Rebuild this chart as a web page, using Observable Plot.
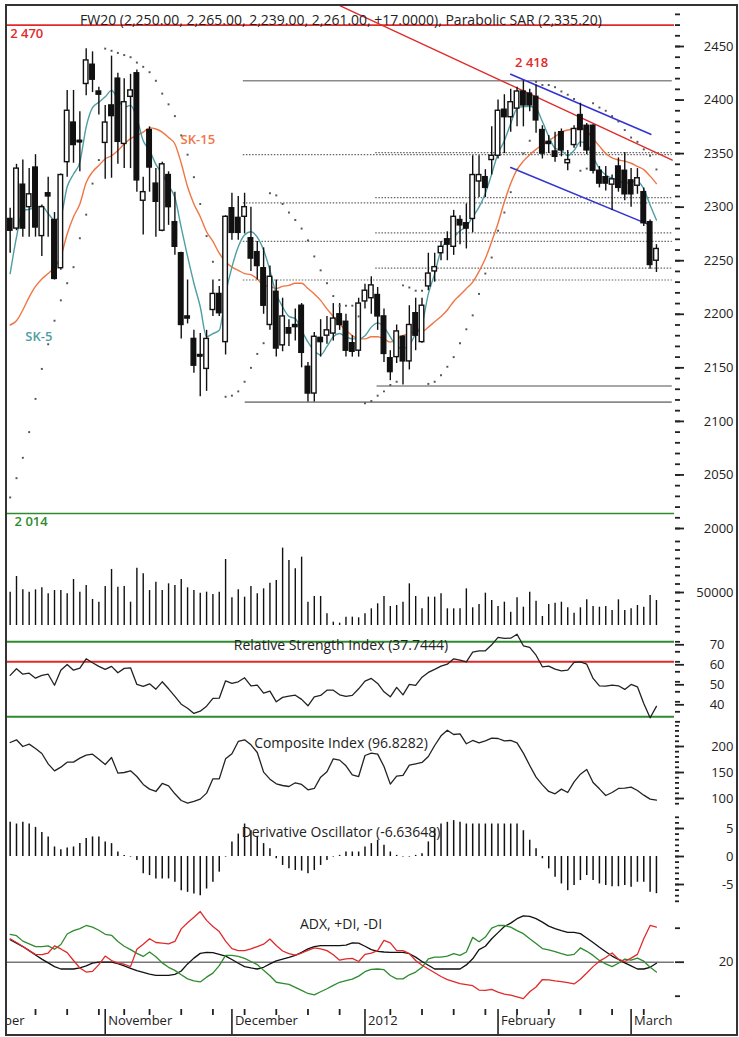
<!DOCTYPE html>
<html><head><meta charset="utf-8">
<script src="https://cdn.jsdelivr.net/npm/d3@7"></script>
<script src="https://cdn.jsdelivr.net/npm/@observablehq/plot@0.6"></script>
<style>
body{margin:0;background:#fff;}
#chart{position:relative;width:739px;height:1037px;overflow:hidden;background:#fff;font-family:"Open Sans",sans-serif;}
#chart svg{position:absolute;left:0;}
#cover{position:absolute;left:0;top:0;width:5px;height:1037px;background:#fff;z-index:5;}
#border{position:absolute;left:5px;top:4px;width:733px;height:1032px;border:2px solid #333;box-sizing:border-box;z-index:6;pointer-events:none;}
</style></head>
<body><div id="chart"><div id="cover"></div><div id="border"></div></div>
<script>
// ---------- data (bar index 0 = 11 Oct 2011 ... 102 = 7 Mar 2012) ----------
const open = [2289,2280,2321,2300,2337,2273,2313,2288,2243,2342, 2379,2362,2415,2433,2408,2360,2395,2420,2359,2403, 2425,2306,2372,2322,2278,2330,2286,2257,2198,2177, 2162,2149,2204,2219,2174,2299,2290,2291,2271,2258, 2243,2190,2221,2171,2187,2190,2208,2151,2126,2178, 2180,2182,2200,2193,2173,2166,2212,2215,2218,2198, 2159,2160,2179,2156,2201,2174,2226,2240,2257,2270, 2263,2288,2285,2289,2324,2328,2344,2348,2391,2384, 2392,2408,2406,2403,2372,2361,2352,2370,2341,2358, 2386,2376,2376,2334,2328,2321,2338,2334,2325,2320, 2314,2286,2250];
const high = [2299,2340,2344,2336,2349,2302,2328,2295,2331,2409, 2409,2389,2448,2445,2412,2395,2441,2425,2420,2424, 2428,2328,2375,2336,2342,2333,2314,2258,2232,2185, 2182,2185,2232,2226,2292,2313,2310,2313,2300,2268, 2262,2245,2232,2215,2195,2205,2210,2155,2183,2195, 2198,2210,2210,2200,2180,2215,2228,2235,2225,2205, 2166,2190,2180,2208,2215,2215,2257,2257,2268,2277, 2297,2292,2303,2348,2348,2335,2375,2400,2405,2410, 2412,2418,2410,2414,2376,2367,2370,2373,2353,2376, 2397,2378,2377,2338,2338,2330,2346,2351,2336,2336, 2318,2288,2265];
const low = [2257,2278,2272,2272,2272,2254,2272,2232,2241,2328, 2341,2333,2404,2407,2386,2326,2327,2340,2336,2336, 2314,2274,2314,2272,2277,2283,2255,2177,2191,2145, 2123,2128,2198,2198,2162,2269,2269,2275,2240,2232, 2200,2185,2160,2165,2170,2175,2150,2118,2118,2160, 2172,2175,2185,2160,2160,2160,2205,2200,2185,2155, 2138,2154,2134,2148,2166,2173,2222,2230,2250,2250, 2255,2265,2261,2276,2309,2309,2330,2345,2350,2370, 2375,2375,2389,2369,2345,2350,2342,2347,2334,2355, 2356,2349,2331,2318,2315,2297,2314,2306,2300,2312, 2282,2242,2239];
const close = [2278,2336,2280,2312,2281,2300,2310,2233,2330,2390, 2358,2361,2437,2419,2405,2379,2385,2361,2398,2409, 2325,2314,2337,2305,2340,2300,2263,2190,2196,2152, 2161,2177,2219,2201,2291,2276,2276,2300,2252,2245, 2208,2235,2168,2198,2182,2188,2164,2126,2179,2174, 2185,2196,2190,2166,2165,2210,2222,2227,2198,2163, 2146,2184,2156,2190,2180,2208,2238,2244,2263,2265, 2291,2283,2280,2330,2330,2318,2348,2390,2384,2398, 2408,2395,2395,2381,2350,2359,2347,2353,2344,2373, 2372,2353,2334,2322,2322,2326,2318,2312,2312,2327, 2285,2246,2261];
const sar = [2029,2047,2066,2090,2121,2149,2172,2194,2213,2229, 2244,2271,2293,2322,2344,2448,2446,2444,2442,2440, 2435,2431,2426,2418,2406,2396,2385,2367,2349,2328, 2303,2273,2249,2232,2123,2124,2128,2137,2150,2163, 2173,2313,2311,2303,2295,2288,2280,2269,2254,2241, 2229,2217,2208,2208,2208,2198,2117,2119,2124,2128, 2134,2137,2227,2225,2222,2222,2135,2137,2143,2151, 2160,2173,2186,2199,2219,2238,2253,2278,2295,2314, 2335,2350,2362,2417,2414,2414,2412,2408,2405,2401, 2334,2336,2397,2393,2390,2385,2380,2372,2365,2361, 2354,2348,2335.2];
const sk5 = [2238,2272,2297,2298,2300,2301,2294,2288,2292,2319, 2331,2342,2375,2393,2398,2403,2409,2401,2393,2395, 2383,2362,2353,2340,2331,2320,2309,2281,2254,2229, 2207,2179,2182,2185,2219,2244,2263,2274,2277,2272, 2260,2241,2219,2207,2198,2196,2185,2174,2166,2162, 2170,2179,2182,2179,2177,2177,2180,2188,2192,2188, 2179,2170,2168,2171,2182,2191,2219,2238,2260,2269, 2272,2278,2282,2291,2300,2313,2331,2350,2362,2378, 2392,2394,2394,2392,2380,2366,2355,2353,2348,2353, 2361,2359,2347,2336,2330,2327,2325,2322,2324,2324, 2317,2302,2288];
const sk15 = [2190,2194,2204,2216,2226,2233,2238,2244,2254,2275, 2291,2303,2323,2333,2339,2345,2348,2353,2359,2364, 2367,2370,2374,2373,2370,2365,2359,2341,2319,2303, 2291,2277,2268,2257,2249,2244,2241,2238,2237,2233, 2227,2226,2224,2226,2227,2229,2229,2224,2219,2213, 2205,2198,2191,2185,2180,2177,2177,2179,2179,2177, 2174,2177,2180,2182,2184,2184,2188,2193,2198,2204, 2212,2218,2224,2230,2240,2252,2268,2285,2305,2322, 2335,2343,2349,2354,2358,2362,2366,2370,2372,2373, 2374,2371,2364,2357,2350,2346,2344,2343,2341,2338, 2335,2329,2322];
const volume = [50400,68800,53100,50400,53100,55500,48400,52300,52300,48400, 65300,50400,58200,41800,38600,57100,77100,56300,57100,38600, 78600,72000,52300,62200,52300,60200,58200,65300,55500,52300, 49200,50400,47600,50400,88800,43700,53100,44500,57100,48400, 54300,61000,64100,102200,87600,77800,91600,38600,45300,45300, 24900,15100,13900,21000,21000,20200,24900,30800,36700,45300, 33500,34700,38600,60200,45300,30800,44500,44500,48400,30800, 30800,30800,54300,32000,35900,49200,40600,33500,38600,26900, 43700,32700,50400,39800,21800,35900,37400,38600,32000,25700, 32000,41400,33500,32700,33500,28800,41400,28800,30800,34700, 32700,46500,40600];
const rsi = [53.2,56.5,53.8,54.3,51.8,53.2,53.8,48.3,55.8,58.7, 55.8,56.8,61.5,59.5,57.7,56.2,57.7,54.5,56.7,57.0, 48.7,47.7,49.0,46.3,50.0,46.5,42.7,38.8,36.8,34.2, 35.3,37.8,41.7,41.8,50.5,49.2,50.0,52.0,48.0,48.3, 44.3,45.3,40.0,42.2,42.8,43.3,41.2,38.0,42.5,43.2, 45.8,45.8,43.5,42.7,43.2,46.5,50.3,51.7,49.2,45.0, 42.5,47.2,43.5,48.7,48.2,52.3,54.7,56.2,57.8,58.8, 61.5,60.8,60.0,64.8,65.5,65.5,68.5,72.2,71.7,71.8, 73.8,68.0,67.2,63.3,57.5,57.8,56.3,55.5,55.8,59.7, 60.0,58.8,51.7,48.0,47.8,48.3,48.0,46.2,48.7,47.5, 39.2,32.0,37.74];
const composite = [207.7,212.9,200,204.5,196.2,186.6,166.7,153.2,160.3,169.9, 169.9,177.6,183.4,185.3,175.7,165.4,178.9,148.8,150,153.2, 142.3,127,118,113.5,128.9,124.4,109,96.2,91.1,94.3, 98.8,110.3,137.8,137.8,176.3,186,209.7,212.9,203.2,188.5, 150.7,137.2,128.2,125,123.1,130.2,127,116.7,119.3,141.1, 151.3,176.3,173.8,162.9,145.5,142.3,182.7,187.2,185.3,161.6, 127.6,143,144.3,164.1,166.7,169.3,180.8,201.9,220.5,231.4, 223.1,224.4,205.2,211.6,207.1,210.9,216,215.4,210.9,211.6, 207.1,187.2,163.5,141,126.3,113.5,109,118,111.6,132.1, 146.8,155.8,130.8,118.6,105.8,111.6,119.3,119.9,121.8,115.4, 106.4,98.8,96.83];
const derivOsc = [6.1,5.8,6.1,5.8,5.2,4.3,3.5,1.7,1.2,1.5, 1.7,2.3,3.2,3.5,3.5,2.6,2.3,0.8,0.2,-0.1, -0.7,-3.1,-3.4,-4.0,-4.0,-4.0,-4.6,-6.1,-6.4,-6.7, -7.0,-5.8,-4.6,-2.8,-0.1,2.6,4.0,5.8,4.6,3.5, 2.3,1.4,-0.4,-1.6,-2.2,-2.5,-2.6,-3.1,-2.5,-1.6, -0.7,-0.1,0.2,0.8,0.8,0.8,1.7,2.3,2.9,2.0, 0.8,0.2,-0.1,-0.1,0.2,0.5,2.6,4.9,5.8,6.1, 6.4,6.1,5.8,5.8,5.8,5.8,5.8,5.8,5.8,5.8, 5.8,4.6,2.9,1.4,-0.4,-2.2,-3.7,-4.9,-6.1,-5.2, -4.3,-3.4,-4.3,-4.9,-5.2,-5.4,-5.4,-5.2,-5.5,-4.6, -4.6,-6.4,-6.64];
const adx = [26.6,25.6,24.6,23.4,22.1,20.9,19.8,18.7,18.0,18.0, 18.0,18.3,18.9,19.7,20.0,20.0,20.0,19.6,18.9,18.2, 17.5,17.0,16.5,16.1,16.1,16.1,16.4,17.4,19.5,21.2, 22.6,22.9,22.8,22.3,21.8,20.8,19.7,18.7,18.3,18.0, 18.5,19.5,20.4,20.9,21.4,22.0,22.9,23.9,24.6,24.9, 24.9,24.9,24.9,25.0,25.7,25.6,24.7,23.7,23.2,23.0, 22.9,22.9,22.9,22.5,21.5,20.2,19.1,18.0,18.0,18.0, 18.0,18.0,19.2,21.0,23.7,24.7,26.9,28.7,30.5,31.5, 32.8,33.6,33.5,32.8,31.8,30.6,29.9,29.3,28.8,28.8, 28.4,27.1,25.8,24.4,23.1,21.8,20.8,19.8,18.9,18.0, 18.0,18.5,19.7];
const plusDI = [28.2,27.8,26.2,25.4,24.6,24.6,24.8,23.8,25.2,28.3, 29.3,29.9,30.8,30.3,29.4,28.2,27.9,26.1,24.7,23.7, 22.6,21.7,23.0,21.6,19.8,18.5,17.6,16.3,15.1,14.5, 14.2,15.6,16.8,19.0,22.0,22.0,21.7,21.1,20.2,19.3, 17.6,16.0,14.1,13.8,13.5,12.6,11.7,10.8,10.4,11.3, 12.2,13.2,14.1,14.6,15.0,15.9,17.2,17.9,18.0,17.8, 16.1,15.1,15.1,16.3,17.1,18.5,21.0,21.5,21.5,21.8, 22.5,22.0,23.0,27.3,26.0,27.4,30.0,30.8,30.8,30.3, 29.3,28.4,26.9,25.5,24.0,23.6,23.1,22.5,22.0,22.3, 24.2,23.2,22.0,20.5,19.5,18.7,19.7,20.9,20.6,21.2, 20.3,18.5,17.1];
const minusDI = [26.9,25.8,24.6,23.4,22.3,22.2,22.7,24.8,23.9,22.8, 20.5,18.3,17.1,17.3,19.3,21.8,20.5,19.7,19.4,18.7, 23.8,25.3,26.9,25.8,25.6,25.4,26.1,29.8,31.6,33.2, 34.9,32.3,30.5,29.0,26.2,24.0,23.4,23.4,23.9,24.6, 25.3,26.8,24.9,23.3,22.5,22.1,22.7,23.5,24.2,23.9, 23.4,22.2,20.6,21.0,21.1,20.2,22.3,22.7,23.4,26.4, 25.7,23.4,23.4,22.5,20.5,19.1,18.0,16.9,15.8,14.9, 14.3,13.7,13.4,13.1,11.8,11.7,12.0,11.2,10.6,10.3, 9.8,9.3,11.3,12.7,14.9,14.8,14.5,14.3,14.0,13.6, 15.0,16.8,18.7,20.3,21.4,22.7,20.9,20.2,21.2,22.3, 26.9,30.8,30.3];

// levels and drawn lines (bar index, price)
const fibLowSet = [2349, 2304, 2268, 2232];     // from the 2118 low, start bar 36.8
const fibMidSet = [2351, 2309, 2276, 2243];     // from the 2133 low, start bar 57.7
const grayLevels = [{p: 2418, from: 36.8}, {p: 2118, from: 37.1}, {p: 2133, from: 57.9}];
const redTrend = [{i: 52.1, p: 2488}, {i: 104.5, p: 2344}];
const blueUpper = [{i: 79, p: 2424}, {i: 101.1, p: 2368}];
const blueLower = [{i: 79, p: 2337}, {i: 101.1, p: 2283}];
const rsiLevels = [{v: 70, c: "#2e8b2e"}, {v: 60, c: "#e02a2a"}, {v: 32.5, c: "#2e8b2e"}];

// x axis
const weekTicks = [4, 9, 14, 18, 22, 27, 32, 37, 42, 47, 52, 60, 65, 70, 75, 80, 85, 90, 95, 100];
const monthStarts = [{i: -6, label: "October"}, {i: 15, label: "November"}, {i: 35, label: "December"},
  {i: 56, label: "2012"}, {i: 77, label: "February"}, {i: 98, label: "March"}];

const titleText = "FW20 (2,250.00, 2,265.00, 2,239.00, 2,261.00, +17.0000), Parabolic SAR (2,335.20)";
const panelTitles = ["Relative Strength Index (37.7444)", "Composite Index (96.8282)", "Derivative Oscillator (-6.63648)", "ADX, +DI, -DI"];
const notesStart = [{t: "2 470", i: 0, p: 2462, c: "#e02a2a"}, {t: "2 014", i: 0.7, p: 2006, c: "#2e8b2e"},
  {t: "SK-15", i: 26.9, p: 2363, c: "#f07545"}, {t: "SK-5", i: 2.4, p: 2179, c: "#4f9ea4"}];
const notesMid = [{t: "2 418", i: 82.3, p: 2435, c: "#e02a2a"}];

// ---------- build ----------
const bars = close.map((c, i) => ({i, o: open[i], h: high[i], l: low[i], c, sar: sar[i], sk5: sk5[i], sk15: sk15[i],
  v: volume[i], rsi: rsi[i], ci: composite[i], d: derivOsc[i], adx: adx[i], pdi: plusDI[i], mdi: minusDI[i]}));
const dojis = bars.filter(d => Math.abs(d.o - d.c) < 1.5);
const X_END = 104.5;
const chart = document.getElementById("chart");
const FONT = "'Open Sans', sans-serif";
const INK = "#222";
const RED = "#e02a2a", GREEN = "#2e8b2e", TEAL = "#4f9ea4", ORANGE = "#f07545", BLUE = "#3434d2";

function panel(top, height, opts) {
  const svg = Plot.plot({
    width: 739, height, marginLeft: 7, marginRight: 65, marginTop: 0, marginBottom: 0,
    style: {fontFamily: FONT, fontSize: "13px", color: INK, background: "transparent"},
    ...opts
  });
  svg.style.position = "absolute";
  svg.style.top = top + "px";
  svg.style.left = "0px";
  chart.insertBefore(svg, document.getElementById("cover"));
}
const xScale = {domain: [-0.42, 104.85], axis: null};
const minorY = (ticks, size = 5) => Plot.axisY({anchor: "right", ticks, tickSize: size, tickFormat: () => "", label: null, stroke: INK, strokeWidth: 1.8});
const majorY = (ticks, pad = 50, dy = 0) => Plot.axisY({anchor: "right", ticks, tickSize: 9, tickPadding: pad, textAnchor: "end", label: null,
  tickFormat: d => String(d), stroke: INK, strokeWidth: 1.8, fill: INK, fontSize: 13, dy});
const panelTitle = (t, dy) => Plot.text([t], {frameAnchor: "top", dy, fontSize: 14, fill: INK});

// price panel
panel(0, 540, {
  marginTop: 5,
  x: xScale,
  y: {domain: [2000, 2450], range: [528, 46], axis: null},
  marks: [
    Plot.ruleY([2470], {stroke: RED, strokeWidth: 1.6}),
    Plot.ruleY([2014], {stroke: GREEN, strokeWidth: 1.6}),
    Plot.ruleY(grayLevels, {y: "p", x1: "from", x2: X_END, stroke: "#8a8a8a", strokeWidth: 1.6}),
    Plot.ruleY(fibLowSet, {y: d => d, x1: 36.8, x2: X_END, stroke: "#666", strokeWidth: 1.2, strokeDasharray: "1.5,1.6"}),
    Plot.ruleY(fibMidSet, {y: d => d, x1: 57.7, x2: X_END, stroke: "#666", strokeWidth: 1.2, strokeDasharray: "1.5,1.6"}),
    Plot.line(redTrend, {x: "i", y: "p", stroke: RED, strokeWidth: 1.4, clip: true}),
    Plot.line(blueUpper, {x: "i", y: "p", stroke: BLUE, strokeWidth: 1.6}),
    Plot.line(blueLower, {x: "i", y: "p", stroke: BLUE, strokeWidth: 1.6}),
    Plot.line(bars, {x: "i", y: "sk15", stroke: ORANGE, strokeWidth: 1.4, curve: "monotone-x"}),
    Plot.line(bars, {x: "i", y: "sk5", stroke: TEAL, strokeWidth: 1.4, curve: "monotone-x"}),
    Plot.ruleX(bars, {x: "i", y1: "l", y2: "h", stroke: "#111", strokeWidth: 1.4}),
    Plot.rect(bars, {x1: d => d.i - 0.36, x2: d => d.i + 0.36, y1: "o", y2: "c",
      fill: d => d.c >= d.o ? "white" : "#111", stroke: "#111", strokeWidth: 1.4}),
    Plot.ruleY(dojis, {y: "c", x1: d => d.i - 0.42, x2: d => d.i + 0.42, stroke: "#111", strokeWidth: 1.6}),
    Plot.dot(bars, {x: "i", y: "sar", r: 1.1, symbol: "square", fill: "#555", stroke: null}),
    Plot.text(notesStart, {x: "i", y: "p", text: "t", fill: "c", textAnchor: "start", fontSize: 13, fontWeight: 600}),
    Plot.text(notesMid, {x: "i", y: "p", text: "t", fill: "c", textAnchor: "middle", fontSize: 13, fontWeight: 600}),
    Plot.text([titleText], {frameAnchor: "top", dy: 10, fontSize: 14, fill: INK}),
    minorY(d3.range(2000, 2481, 10)),
    majorY(d3.range(2000, 2451, 50))
  ]
});

// volume panel
panel(540, 90, {
  marginBottom: 5,
  x: xScale,
  y: {domain: [0, 100000], range: [94.5, 9.5], axis: null},
  marks: [
    Plot.ruleX(bars, {x: "i", y1: 0, y2: "v", stroke: "#111", strokeWidth: 1.4, clip: true}),
    minorY(d3.range(10000, 110001, 10000)),
    majorY([50000])
  ]
});

// RSI panel
panel(630, 95, {
  x: xScale,
  y: {domain: [30, 70], range: [91.3, 11.3], axis: null},
  marks: [
    Plot.ruleY(rsiLevels, {y: "v", stroke: "c", strokeWidth: 2}),
    Plot.line(bars, {x: "i", y: "rsi", stroke: INK, strokeWidth: 1.3}),
    panelTitle(panelTitles[0], 10),
    minorY(d3.range(30, 76, 5)),
    majorY([40, 50, 60, 70], 41, 3)
  ]
});

// Composite index panel
panel(725, 90, {
  x: xScale,
  y: {domain: [100, 200], range: [73, 21], axis: null},
  marks: [
    Plot.line(bars, {x: "i", y: "ci", stroke: INK, strokeWidth: 1.3}),
    panelTitle(panelTitles[1], 13),
    minorY(d3.range(90, 241, 10), 4),
    majorY([100, 150, 200])
  ]
});

// Derivative oscillator panel
panel(815, 90, {
  x: xScale,
  y: {domain: [-5, 5], range: [69, 13], axis: null},
  marks: [
    Plot.ruleX(bars, {x: "i", y1: 0, y2: "d", stroke: "#111", strokeWidth: 1.5}),
    panelTitle(panelTitles[2], 12),
    minorY(d3.range(-8, 9, 1), 4),
    majorY([-5, 0, 5])
  ]
});

// ADX panel + time axis
panel(905, 132, {
  marginBottom: 28,
  x: {domain: [-0.42, 104.85]},
  y: {domain: [10, 30], range: [90.7, 22.7], axis: null},
  marks: [
    Plot.ruleY([20], {stroke: "#777", strokeWidth: 1.6}),
    Plot.line(bars, {x: "i", y: "adx", stroke: "#111", strokeWidth: 1.3}),
    Plot.line(bars, {x: "i", y: "pdi", stroke: GREEN, strokeWidth: 1.3}),
    Plot.line(bars, {x: "i", y: "mdi", stroke: RED, strokeWidth: 1.3}),
    panelTitle(panelTitles[3], 14),
    minorY([10, 30]),
    majorY([20]),
    Plot.axisX({anchor: "bottom", ticks: weekTicks, tickSize: 6, tickFormat: () => "", label: null, stroke: INK, strokeWidth: 1.8}),
    Plot.axisX({anchor: "bottom", ticks: monthStarts.filter(d => d.i >= 0).map(d => d.i), tickSize: 25, tickFormat: () => "", label: null, stroke: INK, strokeWidth: 1.6}),
    Plot.text(monthStarts, {x: "i", text: "label", frameAnchor: "bottom", dy: 15, dx: 3, textAnchor: "start", fontSize: 13, fill: INK})
  ]
});
</script></body></html>
